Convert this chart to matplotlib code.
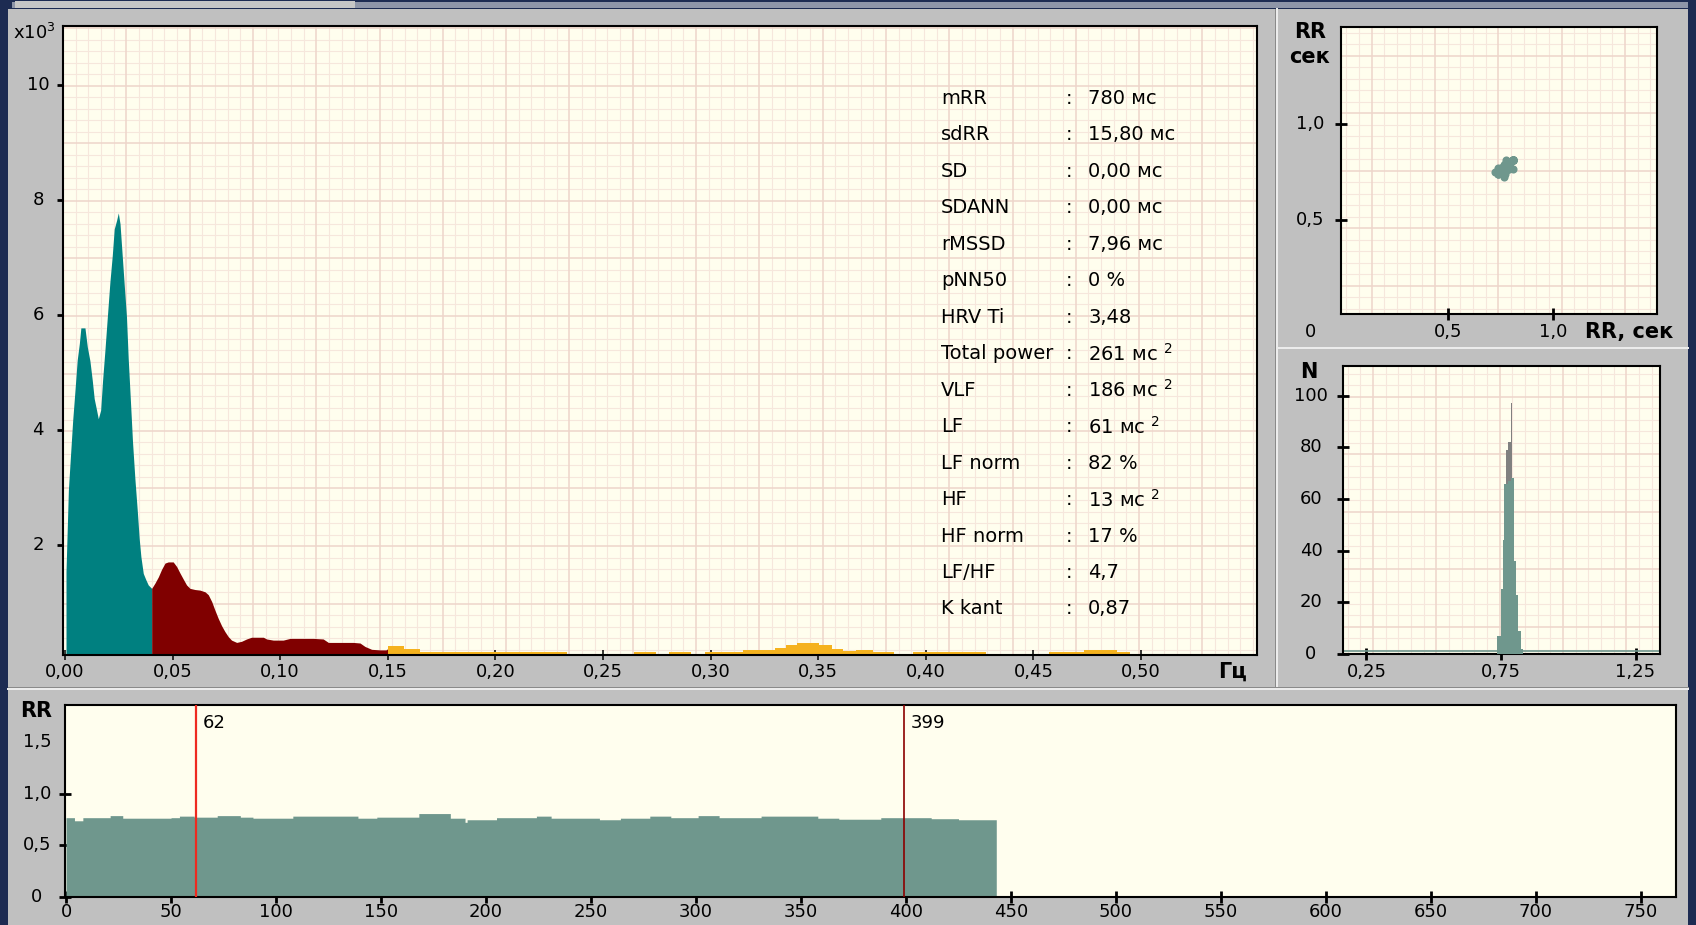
import numpy as np
import matplotlib
matplotlib.use("Agg")
import matplotlib.pyplot as plt
from matplotlib import transforms
from matplotlib.patches import Rectangle
from matplotlib.lines import Line2D
from matplotlib.collections import LineCollection

plt.rcParams["font.family"] = ["DejaVu Sans"]
plt.rcParams["mathtext.default"] = "regular"

# ---- spectrum (power, x10^3) ----
vlf_f = [0.0005, 0.0016, 0.0026, 0.0036, 0.0047, 0.0057, 0.0067, 0.0074, 0.0093, 0.0104,
         0.0116, 0.0127, 0.0136, 0.0147, 0.0155, 0.0166, 0.0175, 0.0186, 0.0197, 0.0209,
         0.0220, 0.0229, 0.0240, 0.0248, 0.0256, 0.0263, 0.0274, 0.0286, 0.0294, 0.0305,
         0.0314, 0.0325, 0.0336, 0.0345, 0.0353, 0.0364, 0.0376, 0.0387, 0.0403]
vlf_p = [1.54, 2.96, 3.57, 4.17, 4.71, 5.22, 5.51, 5.78, 5.78, 5.45,
         5.21, 4.87, 4.55, 4.35, 4.20, 4.35, 4.87, 5.40, 5.97, 6.58,
         7.04, 7.50, 7.65, 7.78, 7.59, 7.21, 6.61, 5.97, 5.25, 4.46,
         3.80, 3.16, 2.61, 2.12, 1.80, 1.51, 1.40, 1.31, 1.25]
lf_f = [0.0403, 0.0418, 0.0434, 0.0449, 0.0465, 0.0480, 0.0503, 0.0519, 0.0534, 0.0550,
        0.0565, 0.0581, 0.0604, 0.0627, 0.0651, 0.0666, 0.0682, 0.0697, 0.0712, 0.0728,
        0.0743, 0.0759, 0.0774, 0.0798, 0.0821, 0.0844, 0.0867, 0.0891, 0.0922, 0.0937,
        0.0968, 0.1014, 0.1046, 0.1092, 0.1154, 0.1200, 0.1224, 0.1278, 0.1340, 0.1371,
        0.1394, 0.1425, 0.1464, 0.1492, 0.1503]
lf_p = [1.25, 1.34, 1.45, 1.58, 1.69, 1.71, 1.71, 1.63, 1.52, 1.41,
        1.31, 1.25, 1.23, 1.22, 1.19, 1.14, 1.02, 0.87, 0.73, 0.60,
        0.50, 0.41, 0.35, 0.31, 0.33, 0.37, 0.40, 0.40, 0.40, 0.37,
        0.35, 0.35, 0.38, 0.38, 0.38, 0.37, 0.31, 0.31, 0.31, 0.30,
        0.24, 0.19, 0.18, 0.18, 0.21]
hf_edges = [0.150, 0.1576, 0.1651, 0.2331, 0.2646, 0.2746, 0.2809, 0.2910, 0.2973, 0.3149,
            0.3300, 0.3351, 0.3401, 0.3502, 0.3565, 0.3615, 0.3678, 0.3754, 0.3854, 0.3942,
            0.4282, 0.4572, 0.4736, 0.4887, 0.4950, 0.55]
hf_vals = [0.24, 0.19, 0.14, 0.05, 0.14, 0.05, 0.14, 0.05, 0.14, 0.17,
           0.21, 0.27, 0.30, 0.26, 0.20, 0.16, 0.17, 0.14, 0.05, 0.14,
           0.05, 0.14, 0.17, 0.14, 0.05]

stat_names = ["mRR", "sdRR", "SD", "SDANN", "rMSSD", "pNN50", "HRV Ti", "Total power",
              "VLF", "LF", "LF norm", "HF", "HF norm", "LF/HF", "K kant"]
stat_values = ["780 мс", "15,80 мс", "0,00 мс", "0,00 мс", "7,96 мс", "0 %", "3,48",
               "261 мс $^2$", "186 мс $^2$", "61 мс $^2$", "82 %", "13 мс $^2$", "17 %",
               "4,7", "0,87"]

# ---- RR series: piecewise levels (beat index where level starts, seconds) ----
rr_starts = [0, 4, 8, 21, 27, 50, 54, 61, 72, 83, 89, 108, 139, 148, 168, 183, 190, 191,
             205, 224, 231, 254, 264, 278, 288, 301, 311, 331, 358, 368, 388, 412, 425]
rr_levels = [0.77, 0.74, 0.77, 0.79, 0.765, 0.77, 0.785, 0.775, 0.79, 0.775, 0.765, 0.785,
             0.765, 0.775, 0.81, 0.765, 0.725, 0.75, 0.77, 0.785, 0.765, 0.75, 0.765, 0.785,
             0.77, 0.79, 0.77, 0.785, 0.765, 0.755, 0.77, 0.76, 0.75]
rr_count = 443
markers = [62, 399]
marker_colors = ["#ee2a20", "#8b0000"]

# ---- RR histogram ----
hist_edges = [0.736, 0.749, 0.756, 0.762, 0.769, 0.777, 0.786, 0.791, 0.800, 0.806,
              0.814, 0.823, 0.830]
hist_green = [7, 25, 44, 66, 66, 67, 68, 68, 36, 23, 9, 2]
hist_gray = [0, 0, 0, 0, 79, 82, 97, 0, 0, 0, 0, 0]

rr = np.repeat(rr_levels, np.diff(rr_starts + [rr_count]))

W, H = 1696, 925
NAVY = "#1d2b52"
PANEL = "#c0c0c0"
PAPER = "#fffeee"
GREEN = "#6f978d"
fig = plt.figure(figsize=(W / 100, H / 100), dpi=100, facecolor=NAVY)
px = transforms.Affine2D().scale(1 / W, -1 / H).translate(0, 1) + fig.transFigure


def rect(x0, y0, x1, y1, color):
    fig.add_artist(Rectangle((x0, y0), x1 - x0, y1 - y0, transform=px,
                             facecolor=color, edgecolor="none", zorder=-10))


def fline(xs, ys, color, lw):
    fig.add_artist(Line2D(xs, ys, transform=px, color=color, lw=lw * 0.72, zorder=-9))


def add_ax(x0, y0, x1, y1):
    a = fig.add_axes([x0 / W, 1 - y1 / H, (x1 - x0) / W, (y1 - y0) / H])
    a.set_facecolor(PAPER)
    for s in a.spines.values():
        s.set_color("black")
        s.set_linewidth(1.5)
    return a


def paper(a, xoff, yoff):
    bb = a.get_position()
    wpx, hpx = bb.width * W, bb.height * H
    sx, sy = 63.3 / 5, 57.5 / 5
    minor, major = [], []
    for n in range(-10, 200):
        p = xoff + n * sx
        if 0 <= p <= wpx:
            (major if n % 5 == 0 else minor).append([(p / wpx, 0), (p / wpx, 1)])
        p = yoff + n * sy
        if 0 <= p <= hpx:
            (major if n % 5 == 0 else minor).append([(0, 1 - p / hpx), (1, 1 - p / hpx)])
    a.add_collection(LineCollection(minor, colors="#f6e7dc", linewidths=0.8,
                                    transform=a.transAxes, zorder=0.5), autolim=False)
    a.add_collection(LineCollection(major, colors="#eed5ca", linewidths=1.1,
                                    transform=a.transAxes, zorder=0.6), autolim=False)


def xlabels(a, vals, texts, ypx, size=13):
    tr = transforms.blended_transform_factory(a.transData, px)
    for v, t in zip(vals, texts):
        a.text(v, ypx, t, transform=tr, ha="center", va="center", fontsize=size)


def ylabels(a, vals, texts, xpx, size=13):
    tr = transforms.blended_transform_factory(px, a.transData)
    for v, t in zip(vals, texts):
        a.text(xpx, v, t, transform=tr, ha="center", va="center", fontsize=size)


def ptext(x, y, t, size=15, bold=True, ha="center"):
    fig.text(x / W, 1 - y / H, t, fontsize=size, fontweight="bold" if bold else "normal",
             ha=ha, va="center")


# ---- window panels ----
rect(12, 2, 1688, 8, "#8e95a8")
rect(15, 1, 355, 8, "#c6c6c6")
rect(8, 9, 1688, 925, PANEL)
fline([1275, 1275], [9, 688], "#8a8a8a", 1)
fline([1277, 1277], [9, 688], "#ececec", 2)
fline([1278, 1688], [348, 348], "#ececec", 2)
fline([8, 1688], [687, 687], "#8a8a8a", 1)
fline([8, 1688], [689, 689], "#ececec", 2)

# ---- spectrum ----
ax = add_ax(63, 26, 1257, 654.5)
paper(ax, 0, 2.5)
ax.fill_between(vlf_f, vlf_p, 0, color="#008080", lw=0, zorder=2)
ax.fill_between(lf_f, lf_p, 0, color="#800000", lw=0, zorder=2)
ax.fill_between(hf_edges, hf_vals + [hf_vals[-1]], 0, step="post", color="#f5b21e",
                lw=0, zorder=2)
ax.set_xlim(-0.0009, 0.5539)
ax.set_ylim(0.10, 11.03)
fx = np.round(np.arange(0, 0.501, 0.05), 2)
ax.set_xticks(fx)
ax.set_yticks([2, 4, 6, 8, 10])
ax.tick_params(axis="x", direction="inout", length=7, width=1.1, labelbottom=False)
ax.tick_params(axis="y", direction="out", length=4, width=2, labelleft=False)
xlabels(ax, fx, [f"{v:.2f}".replace(".", ",") for v in fx], 672)
ylabels(ax, [2, 4, 6, 8, 10], ["2", "4", "6", "8", "10"], 38)
fig.text(13 / W, 1 - 33 / H, "x10$^3$", fontsize=13, ha="left", va="center")
ptext(1233, 672, "Гц")

for i, (name, val) in enumerate(zip(stat_names, stat_values)):
    y = 98.4 + 36.47 * i
    ptext(941, y, name, size=14, bold=False, ha="left")
    ptext(1069, y, ":", size=14, bold=False)
    ptext(1088, y, val, size=14, bold=False, ha="left")

# ---- scatterogram ----
axs = add_ax(1341, 27, 1657, 314)
paper(axs, 30.7, 29)
axs.scatter(rr[:-1], rr[1:], s=34, color=GREEN, lw=0, zorder=3)
axs.set_xlim(-0.01, 1.495)
axs.set_ylim(0.01, 1.505)
axs.set_xticks([0.5, 1.0])
axs.set_yticks([0.5, 1.0])
axs.tick_params(direction="inout", length=8, width=2, labelbottom=False, labelleft=False)
xlabels(axs, [0.5, 1.0], ["0,5", "1,0"], 332)
ylabels(axs, [0.5, 1.0], ["0,5", "1,0"], 1310)
ptext(1311, 332, "0", size=13, bold=False)
ptext(1310, 32, "RR")
ptext(1310, 57, "сек")
ptext(1585, 332, "RR, сек", ha="left")

# ---- histogram ----
axh = add_ax(1343, 366, 1660, 654)
paper(axh, 30, 30.7)
widths = np.diff(hist_edges)
axh.bar(hist_edges[:-1], hist_gray, widths, align="edge", color="#808080", lw=0, zorder=2)
axh.bar(hist_edges[:-1], hist_green, widths, align="edge", color=GREEN, lw=0, zorder=3)
axh.axhline(1.3, color=GREEN, lw=1.2, zorder=2)
axh.set_xlim(0.1627, 1.341)
axh.set_ylim(0.77, 111.5)
axh.set_xticks([0.25, 0.75, 1.25])
axh.set_yticks([0, 20, 40, 60, 80, 100])
axh.tick_params(direction="inout", length=8, width=2, labelbottom=False, labelleft=False)
xlabels(axh, [0.25, 0.75, 1.25], ["0,25", "0,75", "1,25"], 672)
ylabels(axh, [0, 20, 40, 60, 80, 100], ["0", "20", "40", "60", "80", "100"], 1311)
ptext(1309, 372, "N")

# ---- RR intervalogram ----
axb = add_ax(65, 705, 1676, 897)
beats = np.arange(rr_count + 1)
axb.fill_between(beats, np.r_[rr, rr[-1]], 0, step="post", color=GREEN, lw=0, zorder=2)
for m, c in zip(markers, marker_colors):
    axb.axvline(m, color=c, lw=1.6 if m == markers[0] else 1.2, zorder=3)
    axb.text(m, 1.69, str(m), fontsize=13, ha="left", va="center",
             transform=transforms.offset_copy(axb.transData, fig, x=7, units="dots"))
axb.set_xlim(-0.5, 766.7)
axb.set_ylim(0, 1.864)
bx = np.arange(0, 751, 50)
axb.set_xticks(bx)
axb.set_yticks([0, 0.5, 1.0])
axb.tick_params(direction="inout", length=8, width=2, labelbottom=False, labelleft=False)
xlabels(axb, bx, [str(v) for v in bx], 912)
ylabels(axb, [0, 0.5, 1.0, 1.5], ["0", "0,5", "1,0", "1,5"], 37)
ptext(36, 711, "RR")

fig.savefig("out.png", dpi=100, facecolor=NAVY)
